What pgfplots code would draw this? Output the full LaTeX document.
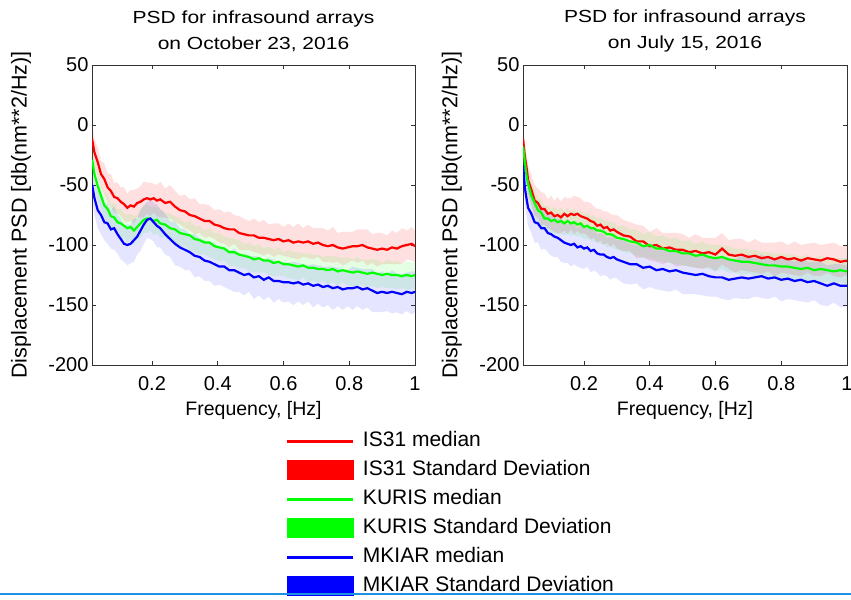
\documentclass[border=0pt]{standalone}
\usepackage{pgfplots}
\pgfplotsset{compat=1.18}
\usepackage{pgfplotstable}
\usepackage{fontspec}
\setmainfont{Liberation Sans}
\newfontfamily\wideF{Liberation Sans}[FakeStretch=1.2]

\pgfplotstableread{
x r sr g sg b sb
0.018 -12 10 -29 10 -50 12
0.025 -23 11 -41 10 -61 14
0.035 -31 12 -51 11 -71 15
0.045 -41 11 -59 10 -75 16
0.055 -45 13 -67 11 -81 15
0.065 -52 12 -70 12 -82 17
0.075 -55 14 -76 10 -87 16
0.085 -60 12 -77 12 -86 18
0.095 -61 13 -81 11 -91 16
0.105 -64 12 -82 12 -95 17
0.115 -66 14 -84 10 -99 15
0.125 -69 12 -86 12 -100 17
0.135 -67 13 -85 11 -99 16
0.145 -68 14 -88 12 -96 18
0.155 -65 12 -85 10 -93 15
0.165 -64 13 -82 12 -88 17
0.175 -62 15 -79 11 -83 16
0.185 -61 13 -78 12 -79 15
0.195 -62 14 -78 10 -78 17
0.205 -61 12 -80 12 -81 16
0.215 -63 13 -79 11 -84 18
0.225 -62 15 -82 12 -86 16
0.24 -65 12 -83 10 -91 17
0.255 -64 14 -86 12 -95 15
0.27 -68 13 -87 11 -99 18
0.285 -71 12 -90 12 -102 16
0.3 -72 14 -91 10 -104 17
0.315 -75 13 -92 12 -106 15
0.33 -76 15 -95 11 -109 18
0.345 -78 12 -96 12 -110 16
0.36 -80 14 -98 10 -113 17
0.375 -80 13 -98 12 -114 16
0.39 -83 12 -101 11 -116 18
0.405 -84 14 -102 12 -118 15
0.42 -86 13 -103 10 -118 17
0.435 -87 15 -106 12 -121 16
0.45 -87 12 -106 11 -121 18
0.465 -90 14 -108 12 -123 16
0.48 -91 13 -109 10 -125 17
0.495 -92 12 -110 12 -124 15
0.51 -92 14 -112 11 -127 18
0.525 -94 13 -111 12 -126 16
0.54 -94 15 -113 10 -129 17
0.555 -95 12 -113 12 -127 16
0.57 -96 14 -115 11 -130 18
0.585 -95 13 -114 12 -130 15
0.6 -97 12 -116 10 -131 17
0.615 -96 14 -116 12 -131 16
0.63 -98 13 -117 11 -132 18
0.645 -97 15 -118 12 -131 16
0.66 -98 12 -117 10 -133 17
0.675 -97 14 -119 12 -132 15
0.69 -99 13 -119 11 -134 18
0.705 -98 12 -120 12 -133 16
0.72 -100 14 -120 10 -135 17
0.735 -101 13 -121 12 -134 16
0.75 -100 15 -120 11 -136 18
0.765 -102 12 -122 12 -135 16
0.78 -103 14 -121 10 -137 17
0.795 -102 13 -122 12 -136 15
0.81 -101 12 -123 11 -136 18
0.825 -101 14 -122 12 -135 16
0.84 -100 13 -123 10 -137 17
0.855 -102 15 -124 12 -136 16
0.87 -103 12 -123 11 -138 18
0.885 -104 14 -124 12 -140 16
0.9 -103 13 -125 10 -139 17
0.915 -104 12 -124 12 -140 15
0.93 -102 14 -125 11 -139 18
0.945 -103 13 -125 12 -140 16
0.96 -101 15 -126 10 -141 17
0.975 -100 12 -125 12 -139 16
0.99 -99 14 -126 11 -140 18
1.0 -101 13 -125 12 -139 17
}\lefttab

\pgfplotstableread{
x r sr g sg b sb
0.015 -12 8 -18 8 -34 10
0.02 -26 10 -31 9 -52 12
0.025 -35 11 -42 10 -61 14
0.03 -46 12 -49 11 -69 15
0.04 -54 12 -59 10 -74 16
0.05 -63 13 -65 11 -81 17
0.06 -65 12 -71 10 -82 16
0.07 -70 14 -73 11 -86 18
0.08 -70 13 -78 10 -86 17
0.09 -74 12 -78 11 -90 16
0.1 -73 14 -80 10 -91 18
0.11 -76 13 -79 11 -93 17
0.12 -75 15 -81 10 -94 16
0.13 -77 13 -80 11 -96 18
0.14 -74 14 -82 10 -98 17
0.15 -76 15 -80 11 -99 16
0.16 -74 13 -82 10 -100 18
0.17 -75 16 -81 11 -99 17
0.18 -74 14 -83 10 -102 16
0.19 -76 15 -82 11 -101 18
0.2 -77 13 -85 10 -103 17
0.21 -78 14 -84 11 -102 16
0.22 -80 15 -86 10 -105 18
0.23 -81 13 -86 11 -104 17
0.24 -84 14 -88 10 -107 16
0.25 -83 13 -88 11 -108 18
0.26 -86 14 -89 10 -108 17
0.27 -85 13 -91 11 -110 16
0.28 -88 14 -91 10 -111 18
0.29 -87 12 -92 11 -110 17
0.3 -89 14 -94 10 -112 16
0.32 -92 13 -95 11 -114 18
0.34 -93 12 -97 10 -116 17
0.36 -97 14 -98 11 -116 16
0.38 -97 13 -101 10 -119 18
0.4 -101 12 -100 11 -118 17
0.42 -100 14 -103 10 -121 16
0.44 -103 13 -103 11 -120 18
0.46 -102 12 -105 10 -122 17
0.48 -104 14 -105 11 -121 16
0.5 -104 13 -107 10 -123 18
0.52 -106 12 -107 11 -124 17
0.54 -105 14 -109 10 -125 16
0.56 -107 13 -108 11 -124 18
0.58 -106 12 -110 10 -126 17
0.6 -108 14 -111 11 -127 16
0.62 -103 13 -110 10 -127 18
0.64 -108 12 -112 11 -129 17
0.66 -109 14 -113 10 -128 16
0.68 -108 13 -114 11 -127 18
0.7 -110 12 -114 10 -128 17
0.72 -109 14 -115 11 -127 16
0.74 -111 13 -116 10 -126 18
0.76 -110 12 -117 11 -128 17
0.78 -112 14 -117 10 -127 16
0.8 -110 13 -118 11 -129 18
0.82 -112 12 -118 10 -128 17
0.84 -111 14 -119 11 -130 16
0.86 -113 13 -120 10 -129 18
0.88 -111 12 -119 11 -131 17
0.9 -112 14 -121 10 -130 16
0.92 -113 13 -120 11 -132 18
0.94 -111 12 -121 10 -134 17
0.96 -112 14 -122 11 -132 16
0.98 -114 13 -121 10 -134 18
1.0 -113 12 -122 11 -134 17
}\righttab

% bands as stacked areas (lower edge, then width 2*std closed against the previous stacked plot)
\newcommand{\drawall}[1]{%
 \addplot[stack plots=y, draw=none, forget plot] table[x=x, y expr=\thisrow{r}-\thisrow{sr}]{#1};
 \addplot[stack plots=y, draw=none, fill=red, fill opacity=0.12, forget plot] table[x=x, y expr=2*\thisrow{sr}]{#1} \closedcycle;
 \addplot[stack plots=y, draw=none, forget plot] table[x=x, y expr=\thisrow{g}-\thisrow{sg}-\thisrow{r}-\thisrow{sr}]{#1};
 \addplot[stack plots=y, draw=none, fill=green, fill opacity=0.1, forget plot] table[x=x, y expr=2*\thisrow{sg}]{#1} \closedcycle;
 \addplot[stack plots=y, draw=none, forget plot] table[x=x, y expr=\thisrow{b}-\thisrow{sb}-\thisrow{g}-\thisrow{sg}]{#1};
 \addplot[stack plots=y, draw=none, fill=blue, fill opacity=0.1, forget plot] table[x=x, y expr=2*\thisrow{sb}]{#1} \closedcycle;
 \addplot[stack plots=false, red, line width=2.2bp, forget plot] table[x=x, y=r]{#1};
 \addplot[stack plots=false, green, line width=2.2bp, forget plot] table[x=x, y=g]{#1};
 \addplot[stack plots=false, blue, line width=2.2bp, forget plot] table[x=x, y=b]{#1};
}

\pgfplotsset{
  psd/.style={
    scale only axis, height=300bp,
    xmax=1, ymin=-200, ymax=50,
    xtick={0.2,0.4,0.6,0.8,1}, ytick={-200,-150,-100,-50,0,50},
    tick align=inside, major tick length=4bp,
    axis line style={line width=0.8bp, black!80},
    every tick/.style={black!80, line width=0.8bp},
    /pgf/number format/assume math mode=true,
    tick label style={font=\fontsize{20bp}{24bp}\selectfont},
    xticklabel style={yshift=-8bp},
    every axis x label/.style={at={(axis description cs:0.5,-0.153)}, anchor=center, font=\fontsize{19.5bp}{24bp}\selectfont},
    every axis y label/.style={at={(axis description cs:-0.2198,0.5)}, rotate=90, anchor=center, font=\fontsize{21.5bp}{26bp}\selectfont},
    title style={at={(axis description cs:0.5,1)}, anchor=south, align=center, inner sep=0pt, yshift=7bp, font=\wideF\fontsize{17.5bp}{26bp}\selectfont},
    xlabel={Frequency, [Hz]},
    ylabel={Displacement PSD [db(nm**2/Hz)]},
  }
}

\begin{document}
\begin{tikzpicture}
\path[use as bounding box] (0bp,0bp) rectangle (851bp,600bp);
\begin{axis}[psd, at={(92bp,235bp)}, anchor=south west, width=323bp, xmin=0.0175,
  title={PSD for infrasound arrays\\on October 23, 2016},
  legend style={at={(axis description cs:0.6006,-0.22)}, anchor=north west, draw=none, fill=none,
    inner sep=0pt, outer sep=0pt, row sep=9bp, column sep=8bp,
    font=\fontsize{21bp}{25bp}\selectfont,
    nodes={inner xsep=0pt, inner ysep=0pt, text height=15bp, text depth=5bp}},
  legend cell align=left]
\drawall{\lefttab}
\addlegendimage{legend image code/.code={\draw[red, line width=3bp] (0bp,0bp) -- (66bp,0bp);}}
\addlegendentry{IS31 median}
\addlegendimage{legend image code/.code={\fill[red] (0bp,-9.5bp) rectangle (66bp,9.5bp);}}
\addlegendentry{IS31 Standard Deviation}
\addlegendimage{legend image code/.code={\draw[green, line width=3bp] (0bp,0bp) -- (66bp,0bp);}}
\addlegendentry{KURIS median}
\addlegendimage{legend image code/.code={\fill[green] (0bp,-9.5bp) rectangle (66bp,9.5bp);}}
\addlegendentry{KURIS Standard Deviation}
\addlegendimage{legend image code/.code={\draw[blue, line width=3bp] (0bp,0bp) -- (66bp,0bp);}}
\addlegendentry{MKIAR median}
\addlegendimage{legend image code/.code={\fill[blue] (0bp,-9.5bp) rectangle (66bp,9.5bp);}}
\addlegendentry{MKIAR Standard Deviation}
\end{axis}
\begin{axis}[psd, at={(523bp,235bp)}, anchor=south west, width=324bp, xmin=0.0145,
  title={PSD for infrasound arrays\\on July 15, 2016}]
\drawall{\righttab}
\end{axis}
\draw[color={rgb,255:red,30;green,144;blue,230}, line width=1.5bp] (0bp,6bp) -- (851bp,6bp);
\end{tikzpicture}
\end{document}
